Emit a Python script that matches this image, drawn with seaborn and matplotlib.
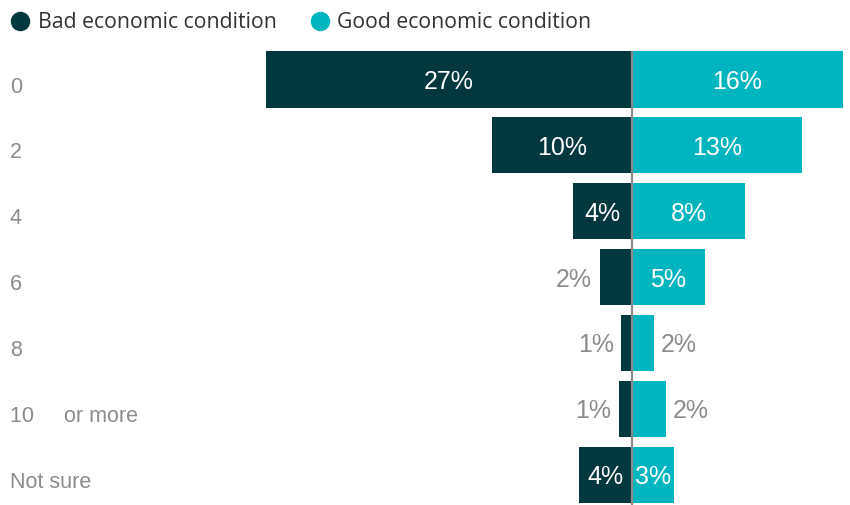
import matplotlib
matplotlib.use("Agg")
import matplotlib.pyplot as plt
from matplotlib.lines import Line2D
import matplotlib.transforms as mtransforms
import pandas as pd
import seaborn as sns

# Number of items (rows) and share of respondents per economic outlook
categories = ["0", "2", "4", "6", "8", "10     or more", "Not sure"]
bad_values = [27.1, 10.4, 4.4, 2.4, 0.8, 1.0, 3.9]
good_values = [15.6, 12.6, 8.4, 5.4, 1.6, 2.5, 3.1]
series_names = ["Bad economic condition", "Good economic condition"]
series_colors = ["#02383e", "#00b5bf"]

W, H = 850, 506
sns.set_theme(style="white")
plt.rcParams["font.family"] = ["Liberation Sans", "DejaVu Sans"]

df = pd.DataFrame({
    "category": categories * 2,
    "value": [-v for v in bad_values] + list(good_values),
    "series": [series_names[0]] * len(categories) + [series_names[1]] * len(categories),
})

fig = plt.figure(figsize=(W / 100, H / 100), dpi=100)
ax = fig.add_axes([0, 0, 1, 1])

sns.barplot(data=df, x="value", y="category", hue="series", order=categories,
            hue_order=series_names, palette=series_colors, dodge=False,
            width=0.85, orient="h", saturation=1, legend=False, ax=ax,
            linewidth=0)

# pixel layout -> data limits
x0_px, px_per_pct = 632, 13.5
row0_px, row_step = 80.5, 65.9
ax.set_xlim(-x0_px / px_per_pct, (W - x0_px) / px_per_pct)
ax.set_ylim((H - row0_px) / row_step, -row0_px / row_step)
ax.axis("off")

# centre divider
ax.plot([0, 0], [-0.43, ax.get_ylim()[0]], color="#8a8a8a", lw=1.6,
        solid_capstyle="butt", zorder=5)

label_fs = 18
grey = "#8c8c8c"
inside_min = 2.8
pad = 0.55
for i, (b, g) in enumerate(zip(bad_values, good_values)):
    yl = i + 0.02
    if b >= inside_min:
        ax.text(-b / 2, yl, f"{b:.0f}%", ha="center", va="center",
                color="white", fontsize=label_fs, zorder=6)
    else:
        ax.text(-b - pad, yl, f"{b:.0f}%", ha="right", va="center",
                color=grey, fontsize=label_fs, zorder=6)
    if g >= inside_min:
        ax.text(g / 2, yl, f"{g:.0f}%", ha="center", va="center",
                color="white", fontsize=label_fs, zorder=6)
    else:
        ax.text(g + pad, yl, f"{g:.0f}%", ha="left", va="center",
                color=grey, fontsize=label_fs, zorder=6)

# row labels on the left
trans = mtransforms.blended_transform_factory(ax.transAxes, ax.transData)
for i, c in enumerate(categories):
    ax.text(10 / W, i + 0.1, c, transform=trans, ha="left", va="center",
            color=grey, fontsize=15.5)

# legend row
legend_items = [(20, 38), (320, 337)]
for (mx, tx), name, col in zip(legend_items, series_names, series_colors):
    fig.add_artist(Line2D([mx / W], [1 - 22 / H], marker="o", markersize=13,
                          color=col, transform=fig.transFigure))
    fig.text(tx / W, 1 - 23 / H, name, ha="left", va="center",
             fontsize=15.3, color="#333333", family=["Open Sans", "DejaVu Sans"])

fig.savefig("out.png", dpi=100)
